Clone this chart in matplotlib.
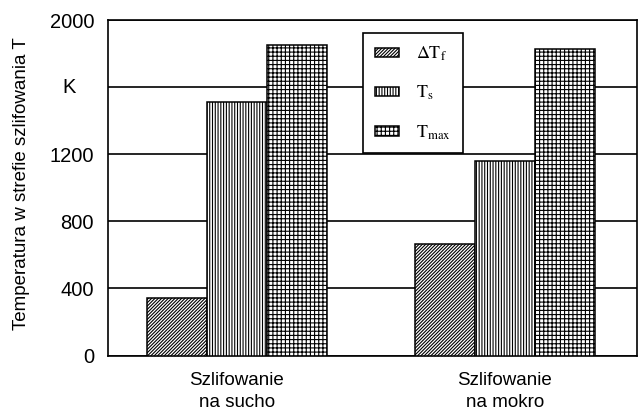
import matplotlib
matplotlib.use("Agg")
import matplotlib.pyplot as plt
import numpy as np

plt.rcParams['font.family'] = ['Liberation Sans', 'DejaVu Sans']
plt.rcParams['mathtext.fontset'] = 'stix'
plt.rcParams['hatch.linewidth'] = 0.8

# Data
groups = ['Szlifowanie\nna sucho', 'Szlifowanie\nna mokro']
series = [r'$\Delta\mathrm{T}_{\mathrm{f}}$', r'$\mathrm{T}_{\mathrm{s}}$', r'$\mathrm{T}_{\mathrm{max}}$']
delta_tf = [340, 665]
t_s = [1512, 1160]
t_max = [1852, 1828]
yticks = [0, 400, 800, 1200, 1600, 2000]
ytick_labels = ['0', '400', '800', '1200', '', '2000']

hatches = ['//////////', '||||||', '++++']
values = [delta_tf, t_s, t_max]

fig = plt.figure(figsize=(6.38, 4.16), dpi=100)
ax = fig.add_axes([0.1693, 0.1454, 0.829, 0.8065])

x = np.arange(len(groups))
width = 0.224
for i, (vals, h, lab) in enumerate(zip(values, hatches, series)):
    ax.bar(x + (i - 1) * width, vals, width, facecolor='white',
           edgecolor='black', linewidth=1.1, hatch=h, label=lab, zorder=3)

ax.set_ylim(0, 2000)
ax.set_xlim(-0.481, 1.4925)
ax.set_yticks(yticks)
ax.set_yticklabels(ytick_labels)
ax.set_xticks(x)
ax.set_xticklabels(groups, linespacing=1.35)
ax.tick_params(axis='y', length=0, pad=10, labelsize=14.5)
ax.tick_params(axis='x', length=0, pad=12, labelsize=13.5)

# unit label in place of the 1600 tick
ax.text(-0.0737, 1600, 'K', transform=ax.get_yaxis_transform(),
        ha='center', va='center', fontsize=14.5)

ax.yaxis.grid(True, color='black', linewidth=1.2)
ax.set_axisbelow(True)
for s in ax.spines.values():
    s.set_linewidth(1.2)
    s.set_color('black')

ax.set_ylabel('Temperatura w strefie szlifowania T', fontsize=13.5)
ax.yaxis.set_label_coords(-0.148, 0.513)

leg = ax.legend(loc='upper left', bbox_to_anchor=(0.482, 0.961),
                borderaxespad=0, fancybox=False, framealpha=1,
                edgecolor='black', prop={'family': 'Liberation Serif', 'size': 13},
                handlelength=1.35, handleheight=0.45, handletextpad=0.95,
                labelspacing=1.15, borderpad=0.65)
leg.get_frame().set_linewidth(1.2)
leg.set_zorder(5)

fig.savefig('out.png', dpi=100)
